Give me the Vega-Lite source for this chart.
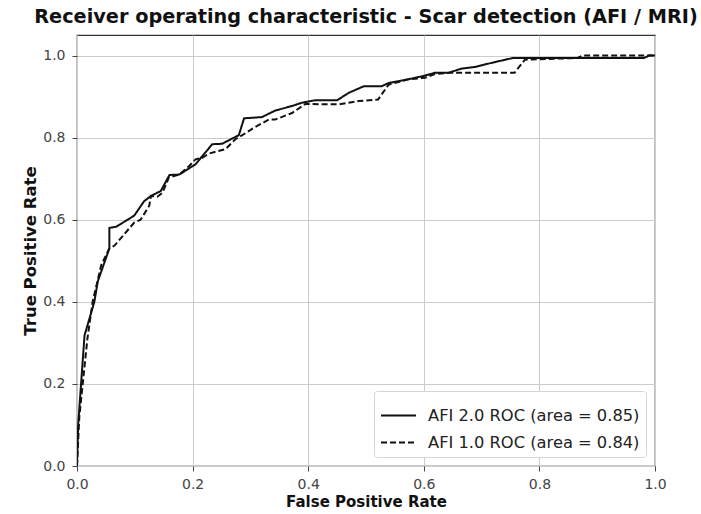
{
  "$schema": "https://vega.github.io/schema/vega-lite/v6.json",
  "width": 578,
  "height": 431,
  "autosize": {"type": "none"},
  "padding": {"left": 77, "top": 35, "right": 46, "bottom": 48},
  "background": "white",
  "title": {"text": "Receiver operating characteristic - Scar detection (AFI / MRI)", "font": "DejaVu Sans", "fontSize": 19.3, "fontWeight": "bold", "color": "#111", "offset": 8, "anchor": "middle"},
  "config": {
    "view": {"stroke": "#333", "strokeWidth": 1.2},
    "axis": {"labelFont": "DejaVu Sans", "labelFontSize": 14, "labelColor": "#444", "titleFont": "DejaVu Sans", "titleFontSize": 15, "titleFontWeight": "bold", "titleColor": "#111", "gridColor": "#cccccc", "gridWidth": 1, "domain": false, "tickColor": "#444", "tickSize": 5, "labelFlush": false}
  },
  "data": {"values": [
    {"s":"AFI 2.0 ROC (area = 0.85)","i":0,"fpr":0,"tpr":0},
    {"s":"AFI 2.0 ROC (area = 0.85)","i":1,"fpr":0.002,"tpr":0.1},
    {"s":"AFI 2.0 ROC (area = 0.85)","i":2,"fpr":0.013,"tpr":0.318},
    {"s":"AFI 2.0 ROC (area = 0.85)","i":3,"fpr":0.03,"tpr":0.40},
    {"s":"AFI 2.0 ROC (area = 0.85)","i":4,"fpr":0.036,"tpr":0.45},
    {"s":"AFI 2.0 ROC (area = 0.85)","i":5,"fpr":0.056,"tpr":0.53},
    {"s":"AFI 2.0 ROC (area = 0.85)","i":6,"fpr":0.056,"tpr":0.58},
    {"s":"AFI 2.0 ROC (area = 0.85)","i":7,"fpr":0.068,"tpr":0.583},
    {"s":"AFI 2.0 ROC (area = 0.85)","i":8,"fpr":0.099,"tpr":0.61},
    {"s":"AFI 2.0 ROC (area = 0.85)","i":9,"fpr":0.116,"tpr":0.645},
    {"s":"AFI 2.0 ROC (area = 0.85)","i":10,"fpr":0.128,"tpr":0.658},
    {"s":"AFI 2.0 ROC (area = 0.85)","i":11,"fpr":0.145,"tpr":0.67},
    {"s":"AFI 2.0 ROC (area = 0.85)","i":12,"fpr":0.16,"tpr":0.709},
    {"s":"AFI 2.0 ROC (area = 0.85)","i":13,"fpr":0.177,"tpr":0.71},
    {"s":"AFI 2.0 ROC (area = 0.85)","i":14,"fpr":0.205,"tpr":0.735},
    {"s":"AFI 2.0 ROC (area = 0.85)","i":15,"fpr":0.234,"tpr":0.784},
    {"s":"AFI 2.0 ROC (area = 0.85)","i":16,"fpr":0.251,"tpr":0.785},
    {"s":"AFI 2.0 ROC (area = 0.85)","i":17,"fpr":0.28,"tpr":0.806},
    {"s":"AFI 2.0 ROC (area = 0.85)","i":18,"fpr":0.289,"tpr":0.847},
    {"s":"AFI 2.0 ROC (area = 0.85)","i":19,"fpr":0.32,"tpr":0.85},
    {"s":"AFI 2.0 ROC (area = 0.85)","i":20,"fpr":0.343,"tpr":0.866},
    {"s":"AFI 2.0 ROC (area = 0.85)","i":21,"fpr":0.372,"tpr":0.877},
    {"s":"AFI 2.0 ROC (area = 0.85)","i":22,"fpr":0.389,"tpr":0.885},
    {"s":"AFI 2.0 ROC (area = 0.85)","i":23,"fpr":0.412,"tpr":0.891},
    {"s":"AFI 2.0 ROC (area = 0.85)","i":24,"fpr":0.45,"tpr":0.891},
    {"s":"AFI 2.0 ROC (area = 0.85)","i":25,"fpr":0.47,"tpr":0.909},
    {"s":"AFI 2.0 ROC (area = 0.85)","i":26,"fpr":0.496,"tpr":0.925},
    {"s":"AFI 2.0 ROC (area = 0.85)","i":27,"fpr":0.527,"tpr":0.925},
    {"s":"AFI 2.0 ROC (area = 0.85)","i":28,"fpr":0.539,"tpr":0.933},
    {"s":"AFI 2.0 ROC (area = 0.85)","i":29,"fpr":0.573,"tpr":0.942},
    {"s":"AFI 2.0 ROC (area = 0.85)","i":30,"fpr":0.602,"tpr":0.951},
    {"s":"AFI 2.0 ROC (area = 0.85)","i":31,"fpr":0.619,"tpr":0.958},
    {"s":"AFI 2.0 ROC (area = 0.85)","i":32,"fpr":0.643,"tpr":0.958},
    {"s":"AFI 2.0 ROC (area = 0.85)","i":33,"fpr":0.665,"tpr":0.968},
    {"s":"AFI 2.0 ROC (area = 0.85)","i":34,"fpr":0.688,"tpr":0.972},
    {"s":"AFI 2.0 ROC (area = 0.85)","i":35,"fpr":0.717,"tpr":0.982},
    {"s":"AFI 2.0 ROC (area = 0.85)","i":36,"fpr":0.754,"tpr":0.994},
    {"s":"AFI 2.0 ROC (area = 0.85)","i":37,"fpr":0.981,"tpr":0.994},
    {"s":"AFI 2.0 ROC (area = 0.85)","i":38,"fpr":0.99,"tpr":1.0},
    {"s":"AFI 2.0 ROC (area = 0.85)","i":39,"fpr":1.0,"tpr":1.0},
    {"s":"AFI 1.0 ROC (area = 0.84)","i":0,"fpr":0,"tpr":0},
    {"s":"AFI 1.0 ROC (area = 0.84)","i":1,"fpr":0.004,"tpr":0.12},
    {"s":"AFI 1.0 ROC (area = 0.84)","i":2,"fpr":0.018,"tpr":0.31},
    {"s":"AFI 1.0 ROC (area = 0.84)","i":3,"fpr":0.027,"tpr":0.40},
    {"s":"AFI 1.0 ROC (area = 0.84)","i":4,"fpr":0.042,"tpr":0.49},
    {"s":"AFI 1.0 ROC (area = 0.84)","i":5,"fpr":0.056,"tpr":0.53},
    {"s":"AFI 1.0 ROC (area = 0.84)","i":6,"fpr":0.065,"tpr":0.537},
    {"s":"AFI 1.0 ROC (area = 0.84)","i":7,"fpr":0.082,"tpr":0.565},
    {"s":"AFI 1.0 ROC (area = 0.84)","i":8,"fpr":0.099,"tpr":0.593},
    {"s":"AFI 1.0 ROC (area = 0.84)","i":9,"fpr":0.11,"tpr":0.6},
    {"s":"AFI 1.0 ROC (area = 0.84)","i":10,"fpr":0.125,"tpr":0.634},
    {"s":"AFI 1.0 ROC (area = 0.84)","i":11,"fpr":0.128,"tpr":0.658},
    {"s":"AFI 1.0 ROC (area = 0.84)","i":12,"fpr":0.139,"tpr":0.656},
    {"s":"AFI 1.0 ROC (area = 0.84)","i":13,"fpr":0.148,"tpr":0.666},
    {"s":"AFI 1.0 ROC (area = 0.84)","i":14,"fpr":0.159,"tpr":0.703},
    {"s":"AFI 1.0 ROC (area = 0.84)","i":15,"fpr":0.177,"tpr":0.71},
    {"s":"AFI 1.0 ROC (area = 0.84)","i":16,"fpr":0.194,"tpr":0.731},
    {"s":"AFI 1.0 ROC (area = 0.84)","i":17,"fpr":0.205,"tpr":0.747},
    {"s":"AFI 1.0 ROC (area = 0.84)","i":18,"fpr":0.217,"tpr":0.751},
    {"s":"AFI 1.0 ROC (area = 0.84)","i":19,"fpr":0.228,"tpr":0.761},
    {"s":"AFI 1.0 ROC (area = 0.84)","i":20,"fpr":0.257,"tpr":0.772},
    {"s":"AFI 1.0 ROC (area = 0.84)","i":21,"fpr":0.274,"tpr":0.796},
    {"s":"AFI 1.0 ROC (area = 0.84)","i":22,"fpr":0.286,"tpr":0.806},
    {"s":"AFI 1.0 ROC (area = 0.84)","i":23,"fpr":0.306,"tpr":0.824},
    {"s":"AFI 1.0 ROC (area = 0.84)","i":24,"fpr":0.332,"tpr":0.844},
    {"s":"AFI 1.0 ROC (area = 0.84)","i":25,"fpr":0.343,"tpr":0.844},
    {"s":"AFI 1.0 ROC (area = 0.84)","i":26,"fpr":0.372,"tpr":0.86},
    {"s":"AFI 1.0 ROC (area = 0.84)","i":27,"fpr":0.395,"tpr":0.882},
    {"s":"AFI 1.0 ROC (area = 0.84)","i":28,"fpr":0.452,"tpr":0.881},
    {"s":"AFI 1.0 ROC (area = 0.84)","i":29,"fpr":0.487,"tpr":0.889},
    {"s":"AFI 1.0 ROC (area = 0.84)","i":30,"fpr":0.521,"tpr":0.893},
    {"s":"AFI 1.0 ROC (area = 0.84)","i":31,"fpr":0.539,"tpr":0.929},
    {"s":"AFI 1.0 ROC (area = 0.84)","i":32,"fpr":0.573,"tpr":0.942},
    {"s":"AFI 1.0 ROC (area = 0.84)","i":33,"fpr":0.602,"tpr":0.946},
    {"s":"AFI 1.0 ROC (area = 0.84)","i":34,"fpr":0.619,"tpr":0.955},
    {"s":"AFI 1.0 ROC (area = 0.84)","i":35,"fpr":0.643,"tpr":0.958},
    {"s":"AFI 1.0 ROC (area = 0.84)","i":36,"fpr":0.757,"tpr":0.958},
    {"s":"AFI 1.0 ROC (area = 0.84)","i":37,"fpr":0.775,"tpr":0.99},
    {"s":"AFI 1.0 ROC (area = 0.84)","i":38,"fpr":0.866,"tpr":0.994},
    {"s":"AFI 1.0 ROC (area = 0.84)","i":39,"fpr":0.875,"tpr":1.0},
    {"s":"AFI 1.0 ROC (area = 0.84)","i":40,"fpr":1.0,"tpr":1.0}
  ]},
  "mark": {"type": "line", "color": "#111", "strokeWidth": 2, "clip": true},
  "encoding": {
    "x": {"field": "fpr", "type": "quantitative", "title": "False Positive Rate", "scale": {"domain": [0, 1], "nice": false}, "axis": {"values": [0, 0.2, 0.4, 0.6, 0.8, 1.0], "format": ".1f", "titlePadding": 3, "labelPadding": 6}},
    "y": {"field": "tpr", "type": "quantitative", "title": "True Positive Rate", "scale": {"domain": [0, 1.05], "nice": false}, "axis": {"values": [0, 0.2, 0.4, 0.6, 0.8, 1.0], "format": ".1f", "titleFontSize": 16.5, "titlePadding": 4, "labelPadding": 7}},
    "order": {"field": "i", "type": "quantitative"},
    "strokeDash": {"field": "s", "type": "nominal", "title": null,
      "scale": {"domain": ["AFI 2.0 ROC (area = 0.85)", "AFI 1.0 ROC (area = 0.84)"], "range": [[1, 0], [6, 3]]},
      "legend": {"orient": "bottom-right", "offset": 9, "padding": 6, "strokeColor": "#d6d6d6", "fillColor": "white", "cornerRadius": 3, "labelFont": "DejaVu Sans", "labelFontSize": 16.3, "labelColor": "#222", "labelLimit": 400, "symbolType": "stroke", "symbolSize": 1225, "symbolStrokeWidth": 2, "symbolStrokeColor": "#111", "rowPadding": -4, "labelOffset": 11}}
  }
}
